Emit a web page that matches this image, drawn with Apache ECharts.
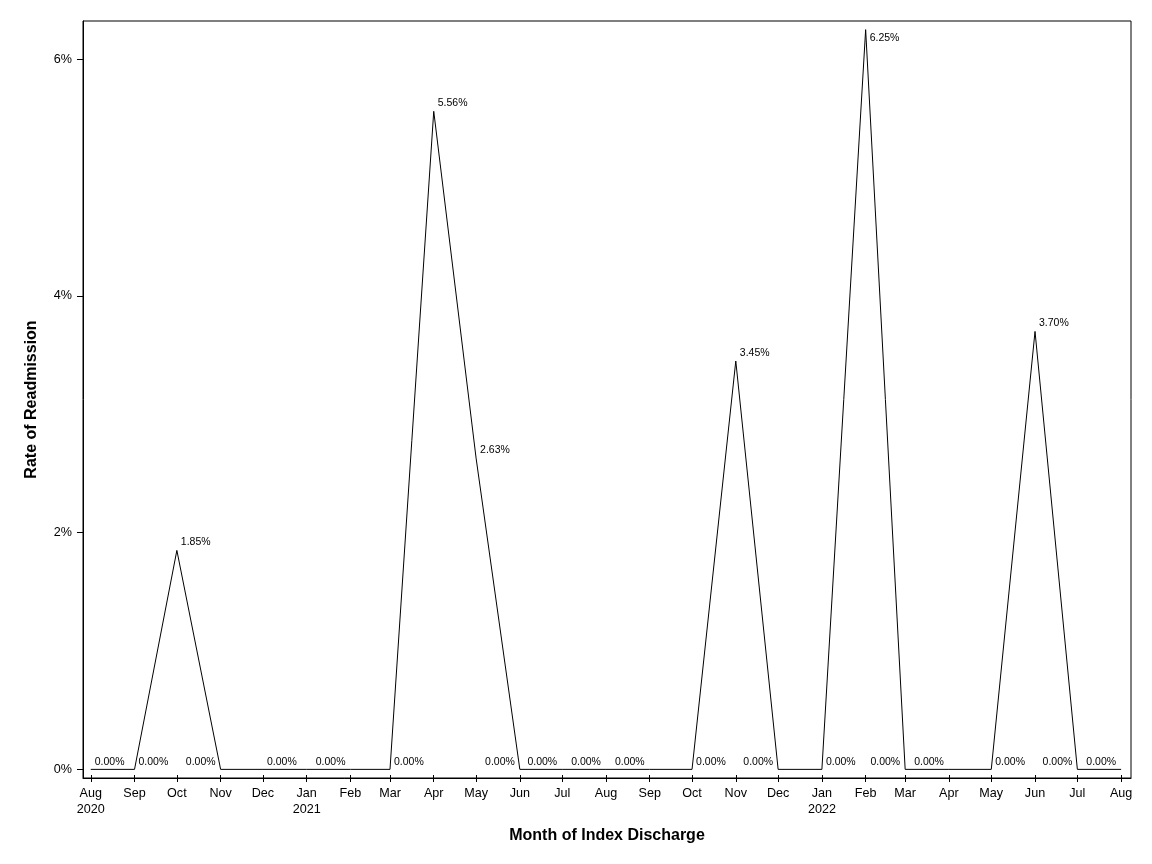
<!DOCTYPE html>
<html>
<head>
<meta charset="utf-8">
<title>Rate of Readmission</title>
<script src="https://cdn.jsdelivr.net/npm/echarts@6/dist/echarts.min.js"></script>
<style>
  html, body { margin: 0; padding: 0; background: #fff; }
  #chart { width: 1152px; height: 864px; }
</style>
</head>
<body>
<div id="chart"></div>
<script>
// month of index discharge (first of month)
const months = [
  '2020-08-01', '2020-09-01', '2020-10-01', '2020-11-01', '2020-12-01',
  '2021-01-01', '2021-02-01', '2021-03-01', '2021-04-01', '2021-05-01',
  '2021-06-01', '2021-07-01', '2021-08-01', '2021-09-01', '2021-10-01',
  '2021-11-01', '2021-12-01', '2022-01-01', '2022-02-01', '2022-03-01',
  '2022-04-01', '2022-05-01', '2022-06-01', '2022-07-01', '2022-08-01'
];
// readmission rate, percent
const rates = [
  0, 0, 1.85, 0, 0,
  0, 0, 0, 5.56, 2.63,
  0, 0, 0, 0, 0,
  3.45, 0, 0, 6.25, 0,
  0, 0, 3.70, 0, 0
];
const yTicks = [0, 2, 4, 6];
const monthNames = ['Jan', 'Feb', 'Mar', 'Apr', 'May', 'Jun', 'Jul', 'Aug', 'Sep', 'Oct', 'Nov', 'Dec'];

// where each point label sits (r = right/up, l = left/up, rb = right/down, '' = none)
const labelSide = [
  'r', 'r', 'r', 'l', 'r',
  '', 'l', 'r', 'r', 'r',
  'l', 'l', 'l', 'l', 'r',
  'r', 'l', 'r', 'rb', 'l',
  'l', 'r', 'r', 'l', 'l'
];

const FONT = '"Liberation Sans", Arial, sans-serif';
const DAY = 86400000;

function toTime(s) {
  const p = s.split('-');
  return Date.UTC(+p[0], +p[1] - 1, +p[2]);
}

const monthTimes = months.map(toTime);

function pointLabel(side, v) {
  if (!side) return { show: false };
  const up = v === 0 ? -7 : -8;
  if (side === 'l') return { show: true, position: [-5, up], align: 'right', verticalAlign: 'middle' };
  if (side === 'rb') return { show: true, position: [4, 8], align: 'left', verticalAlign: 'middle' };
  return { show: true, position: [4, up], align: 'left', verticalAlign: 'middle' };
}

const seriesData = rates.map((v, i) => ({
  value: [monthTimes[i], v],
  label: pointLabel(labelSide[i], v)
}));

function monthLabel(val) {
  const d = new Date(val);
  const m = monthNames[d.getUTCMonth()];
  if (d.getUTCMonth() === 0 || val === monthTimes[0]) return m + '\n' + d.getUTCFullYear();
  return m;
}

const chart = echarts.init(document.getElementById('chart'), null, { renderer: 'canvas' });

const xMin = monthTimes[0] - 5.5 * DAY;
const xMax = monthTimes[monthTimes.length - 1] + 7 * DAY;

const option = {
  animation: false,
  backgroundColor: '#fff',
  textStyle: { fontFamily: FONT },
  grid: {
    left: 83, right: 21, top: 21, bottom: 86,
    show: true, borderColor: '#000', borderWidth: 1
  },
  xAxis: [{
    type: 'value',
    min: xMin,
    max: xMax,
    name: 'Month of Index Discharge',
    nameLocation: 'middle',
    nameGap: 50,
    nameTextStyle: { fontFamily: FONT, fontSize: 16, fontWeight: 'bold', color: '#000' },
    axisLine: { show: true, onZero: false, lineStyle: { color: '#000', width: 1 } },
    axisTick: { show: true, inside: false, length: 4, lineStyle: { color: '#000' }, customValues: monthTimes },
    axisLabel: {
      customValues: monthTimes,
      formatter: monthLabel,
      fontFamily: FONT, fontSize: 12.6, color: '#000',
      lineHeight: 16, margin: 8, hideOverlap: false,
      showMinLabel: true, showMaxLabel: true
    },
    splitLine: { show: false }
  }, {
    // inner half of the crossing ticks
    type: 'value',
    position: 'bottom',
    min: xMin,
    max: xMax,
    axisLine: { show: false, onZero: false },
    axisTick: { show: true, inside: true, length: 3, lineStyle: { color: '#000' }, customValues: monthTimes },
    axisLabel: { show: false },
    splitLine: { show: false }
  }],
  yAxis: {
    type: 'value',
    min: -0.073,
    max: 6.323,
    name: 'Rate of Readmission',
    nameLocation: 'middle',
    nameGap: 43,
    nameTextStyle: { fontFamily: FONT, fontSize: 16, fontWeight: 'bold', color: '#000' },
    axisLine: { show: true, onZero: false, lineStyle: { color: '#000', width: 1 } },
    axisTick: { show: true, inside: false, length: 6, lineStyle: { color: '#000' }, customValues: yTicks },
    axisLabel: {
      customValues: yTicks,
      formatter: v => v + '%',
      fontFamily: FONT, fontSize: 12.6, color: '#000', margin: 11
    },
    splitLine: { show: false }
  },
  series: [{
    type: 'line',
    data: seriesData,
    showSymbol: true,
    symbol: 'circle',
    symbolSize: 0,
    lineStyle: { color: '#000', width: 1 },
    itemStyle: { color: '#000' },
    label: {
      formatter: p => p.value[1].toFixed(2) + '%',
      fontFamily: FONT, fontSize: 10.5, color: '#000'
    },
    labelLayout: { hideOverlap: false },
    emphasis: { disabled: true }
  }]
};

chart.setOption(option);
</script>
</body>
</html>
